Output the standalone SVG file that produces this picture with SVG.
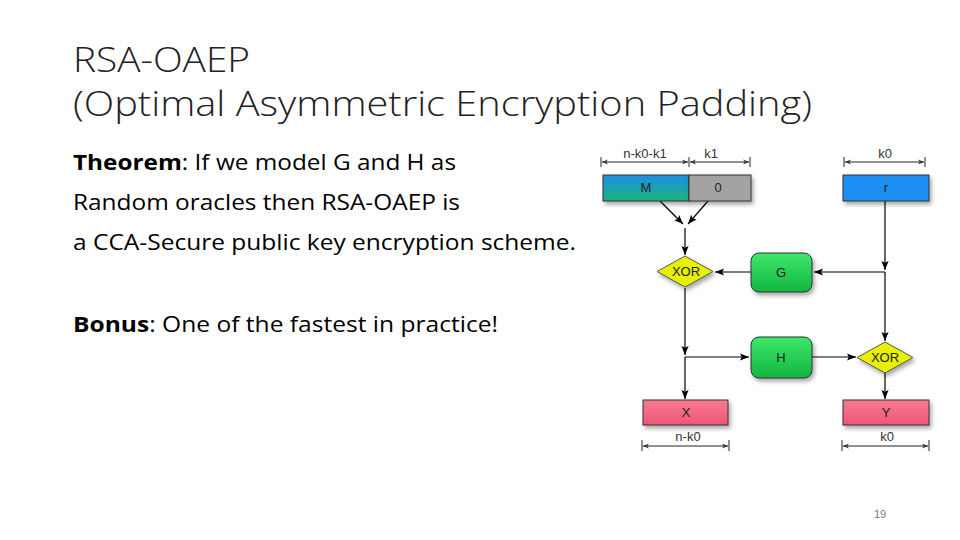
<svg xmlns="http://www.w3.org/2000/svg" width="960" height="540" viewBox="0 0 960 540">
<style>
.title{font-family:"Open Sans","Liberation Sans",sans-serif;font-size:35px;fill:#222;font-weight:300}
.body{font-family:"Open Sans","Liberation Sans",sans-serif;font-size:21px;fill:#000}
.b{font-weight:bold}
.lbl{font-family:"Liberation Sans",Arial,sans-serif;font-size:13px;fill:#222;text-anchor:middle}
.dim{font-family:"Liberation Sans",Arial,sans-serif;font-size:13px;fill:#333;text-anchor:middle}
.conn{stroke:#000;stroke-width:1.2;fill:none}
.dl{stroke:#222;stroke-width:1;fill:none}
.box{stroke:#333;stroke-width:1}
</style>
<defs>
<marker id="ah" viewBox="0 0 10 10" refX="10" refY="5" markerWidth="9" markerHeight="9" orient="auto" markerUnits="userSpaceOnUse">
<path d="M0,1 L10,5 L0,9 L2,5 z" fill="#000"/>
</marker>
<marker id="da" viewBox="0 0 10 10" refX="10" refY="5" markerWidth="8" markerHeight="6" orient="auto" markerUnits="userSpaceOnUse">
<path d="M0,1 L10,5 L0,9 L3,5 z" fill="#333"/>
</marker>
<marker id="ds" viewBox="0 0 10 10" refX="0" refY="5" markerWidth="8" markerHeight="6" orient="auto" markerUnits="userSpaceOnUse">
<path d="M10,1 L0,5 L10,9 L7,5 z" fill="#333"/>
</marker>
<linearGradient id="gM" x1="0" y1="0" x2="0" y2="1"><stop offset="0" stop-color="#1b8fe6"/><stop offset="1" stop-color="#1db37a"/></linearGradient>
<linearGradient id="gG" x1="0" y1="0" x2="0" y2="1"><stop offset="0" stop-color="#3ee86a"/><stop offset="1" stop-color="#12b540"/></linearGradient>
<linearGradient id="gX" x1="0" y1="0" x2="0" y2="1"><stop offset="0" stop-color="#f87a92"/><stop offset="1" stop-color="#ee5578"/></linearGradient>
<filter id="sh" x="-20%" y="-20%" width="150%" height="160%"><feDropShadow dx="2" dy="3" stdDeviation="2" flood-color="#000" flood-opacity="0.35"/></filter>
</defs>

<text class="title" x="73" y="72" textLength="177" lengthAdjust="spacingAndGlyphs">RSA-OAEP</text>
<text class="title" x="73" y="116" textLength="739" lengthAdjust="spacingAndGlyphs">(Optimal Asymmetric Encryption Padding)</text>

<text class="body" x="73" y="170" textLength="383" lengthAdjust="spacingAndGlyphs"><tspan class="b">Theorem</tspan>: If we model G and H as</text>
<text class="body" x="73" y="210" textLength="387" lengthAdjust="spacingAndGlyphs">Random oracles then RSA-OAEP is</text>
<text class="body" x="73" y="250" textLength="503" lengthAdjust="spacingAndGlyphs">a CCA-Secure public key encryption scheme.</text>
<text class="body" x="73" y="332" textLength="425" lengthAdjust="spacingAndGlyphs"><tspan class="b">Bonus</tspan>: One of the fastest in practice!</text>

<text x="880" y="518" font-family="Liberation Sans,Arial,sans-serif" font-size="11" fill="#777" text-anchor="middle">19</text>

<g id="dims">
<line class="dl" x1="601" y1="157" x2="601" y2="167"/>
<line class="dl" x1="689" y1="157" x2="689" y2="167"/>
<line class="dl" x1="750" y1="157" x2="750" y2="167"/>
<line class="dl" x1="602" y1="162" x2="688" y2="162" marker-start="url(#ds)" marker-end="url(#da)"/>
<line class="dl" x1="690" y1="162" x2="749" y2="162" marker-start="url(#ds)" marker-end="url(#da)"/>
<text class="dim" x="645" y="158">n-k0-k1</text>
<text class="dim" x="711" y="158">k1</text>
<line class="dl" x1="844" y1="157" x2="844" y2="167"/>
<line class="dl" x1="925" y1="157" x2="925" y2="167"/>
<line class="dl" x1="845" y1="162" x2="924" y2="162" marker-start="url(#ds)" marker-end="url(#da)"/>
<text class="dim" x="885" y="158">k0</text>
<line class="dl" x1="642" y1="440" x2="642" y2="451"/>
<line class="dl" x1="729" y1="440" x2="729" y2="451"/>
<line class="dl" x1="643" y1="446" x2="728" y2="446" marker-start="url(#ds)" marker-end="url(#da)"/>
<text class="dim" x="688" y="441">n-k0</text>
<line class="dl" x1="842" y1="440" x2="842" y2="451"/>
<line class="dl" x1="929" y1="440" x2="929" y2="451"/>
<line class="dl" x1="843" y1="446" x2="928" y2="446" marker-start="url(#ds)" marker-end="url(#da)"/>
<text class="dim" x="887" y="441">k0</text>
</g>

<g id="connectors">
<line class="conn" x1="660" y1="201" x2="683" y2="224" marker-end="url(#ah)"/>
<line class="conn" x1="708" y1="201" x2="688" y2="224" marker-end="url(#ah)"/>
<line class="conn" x1="685" y1="228" x2="685" y2="255" marker-end="url(#ah)"/>
<line class="conn" x1="751" y1="272" x2="715" y2="272" marker-end="url(#ah)"/>
<line class="conn" x1="885" y1="201" x2="885" y2="270" marker-end="url(#ah)"/>
<line class="conn" x1="885" y1="272" x2="814" y2="272" marker-end="url(#ah)"/>
<line class="conn" x1="885" y1="272" x2="885" y2="341" marker-end="url(#ah)"/>
<line class="conn" x1="685" y1="288" x2="685" y2="355" marker-end="url(#ah)"/>
<line class="conn" x1="685" y1="357" x2="749" y2="357" marker-end="url(#ah)"/>
<line class="conn" x1="685" y1="357" x2="685" y2="399" marker-end="url(#ah)"/>
<line class="conn" x1="812" y1="357" x2="856" y2="357" marker-end="url(#ah)"/>
<line class="conn" x1="885" y1="373" x2="885" y2="399" marker-end="url(#ah)"/>
</g>

<g id="node-M"><rect class="box" x="603" y="175" width="86" height="26" fill="url(#gM)" filter="url(#sh)"/><text class="lbl" x="646" y="192">M</text></g>
<g id="node-0"><rect class="box" x="689" y="175" width="62" height="26" fill="#a3a3a3" filter="url(#sh)"/><text class="lbl" x="718" y="192">0</text></g>
<g id="node-r"><rect class="box" x="843" y="175" width="86" height="26" fill="#1a8ff2" filter="url(#sh)"/><text class="lbl" x="886" y="192">r</text></g>
<g id="node-xor1"><polygon points="685,256 713,271.5 685,287 657,271.5" fill="#e6f000" stroke="#555" stroke-width="1" filter="url(#sh)"/><text class="lbl" x="686" y="276">XOR</text></g>
<g id="node-G"><rect class="box" x="751" y="253" width="61" height="39" rx="8" fill="url(#gG)" filter="url(#sh)"/><text class="lbl" x="781" y="277">G</text></g>
<g id="node-H"><rect class="box" x="751" y="337" width="61" height="41" rx="8" fill="url(#gG)" filter="url(#sh)"/><text class="lbl" x="781" y="362">H</text></g>
<g id="node-xor2"><polygon points="885,342 913,357.5 885,373 857,357.5" fill="#e6f000" stroke="#555" stroke-width="1" filter="url(#sh)"/><text class="lbl" x="885" y="362">XOR</text></g>
<g id="node-X"><rect class="box" x="643" y="400" width="85" height="25" fill="url(#gX)" filter="url(#sh)"/><text class="lbl" x="686" y="417">X</text></g>
<g id="node-Y"><rect class="box" x="843" y="400" width="86" height="25" fill="url(#gX)" filter="url(#sh)"/><text class="lbl" x="886" y="417">Y</text></g>
</svg>
